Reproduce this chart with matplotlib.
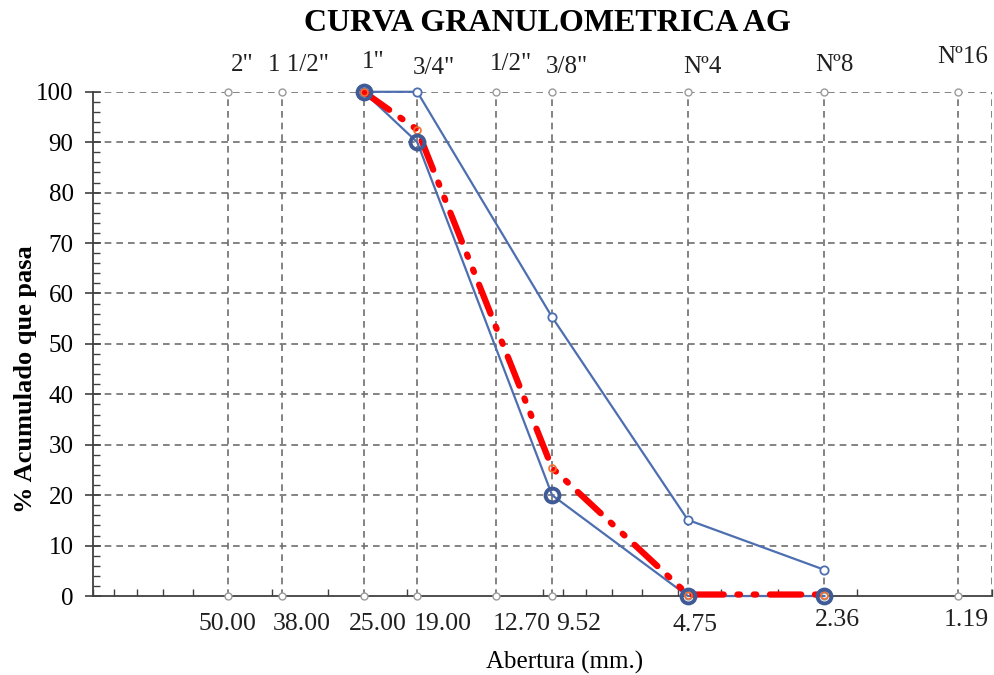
import matplotlib
matplotlib.use("Agg")
import matplotlib.pyplot as plt
from matplotlib.ticker import FixedLocator, LogLocator, MultipleLocator, NullFormatter

plt.rcParams['font.family'] = ['Liberation Serif', 'DejaVu Serif']

# sieve openings (mm) and names
sieve_mm = [50.0, 38.0, 25.0, 19.0, 12.7, 9.52, 4.75, 2.36, 1.19]
sieve_names = ['2"', '1 1/2"', '1"', '3/4"', '1/2"', '3/8"', 'Nº4', 'Nº8', 'Nº16']
sieve_labels = ['50.00', '38.00', '25.00', '19.00', '12.70', '9.52', '4.75', '2.36', '1.19']

# gradation limits and sample curve
curve_mm = [25.0, 19.0, 9.52, 4.75, 2.36]
upper_limit = [100, 100, 55.3, 15.1, 5.2]
lower_limit = [100, 90, 20, 0, 0]
sample = [100, 92.5, 25.4, 0.3, 0.3]

# label nudges in pixels (the excel data labels are not centred on the sieve)
top_nudge = [(14, 27), (17, 27), (10, 30), (17, 24), (15, 28), (15, 25), (15, 25), (10, 27), (5, 35)]
bottom_nudge = [(-1, -28), (20, -28), (14, -28), (25, -28), (26, -28), (26, -28),
                (7, -28.5), (13, -23.5), (8, -23.5)]

fig = plt.figure(figsize=(9.95, 6.75), dpi=100)
ax = fig.add_axes([0.0935, 0.117, 0.9035, 0.747])

ax.set_xscale('log')
ax.set_xlim(100, 1)
ax.set_ylim(0, 100)

grid_kw = dict(color='#6e6e6e', lw=1.2, ls=(0, (4, 3)), zorder=1)
for v in range(10, 101, 10):
    ax.axhline(v, **grid_kw)
for v in sieve_mm + [1.0]:
    ax.axvline(v, **grid_kw)

# reference markers on top and bottom
ax.plot(sieve_mm, [100] * len(sieve_mm), ls='none', marker='o', ms=5,
        mfc='white', mec='#9a9a9a', mew=1.0, zorder=3, clip_on=False)
ax.plot(sieve_mm, [0] * len(sieve_mm), ls='none', marker='o', ms=5,
        mfc='white', mec='#9a9a9a', mew=1.0, zorder=3, clip_on=False)

blue = '#4d6fb0'
ax.plot(curve_mm, upper_limit, color=blue, lw=1.6, marker='o', ms=6,
        mfc='white', mec=blue, mew=1.3, zorder=4, clip_on=False)
ax.plot(curve_mm, lower_limit, color=blue, lw=1.6, zorder=4, clip_on=False)
ax.plot(curve_mm, sample, color='red', lw=4.5,
        ls=(0, (5, 2.2, 0.4, 2.2, 0.4, 2.2)), dash_capstyle='round',
        marker='o', ms=5, mfc='none', mec='#f07030', mew=1.2,
        zorder=5, clip_on=False)
ax.plot(curve_mm, lower_limit, ls='none', marker='o', ms=10,
        mfc='none', mec='#3f5a94', mew=2.8, zorder=6, clip_on=False)

for s in ['top', 'right']:
    ax.spines[s].set_visible(False)
for s in ['left', 'bottom']:
    ax.spines[s].set_color('#404040')
    ax.spines[s].set_linewidth(1.3)

ax.xaxis.set_major_locator(FixedLocator(sieve_mm))
ax.xaxis.set_major_formatter(NullFormatter())
ax.xaxis.set_minor_locator(LogLocator(base=10, subs=range(1, 10), numticks=20))
ax.xaxis.set_minor_formatter(NullFormatter())
ax.tick_params(axis='x', which='major', length=0)
ax.tick_params(axis='x', which='minor', direction='in', length=5, width=1, color='#404040')

# sieve labels below (mm) and above (names)
for mm, lab, (dx, dy) in zip(sieve_mm, sieve_labels, bottom_nudge):
    ax.annotate(lab, xy=(mm, 0), xycoords=('data', 'axes fraction'),
                xytext=(dx, dy), textcoords='offset pixels',
                ha='center', va='center', fontsize=18.5, color='#202020')
for mm, lab, (dx, dy) in zip(sieve_mm, sieve_names, top_nudge):
    ax.annotate(lab, xy=(mm, 1), xycoords=('data', 'axes fraction'),
                xytext=(dx, dy), textcoords='offset pixels',
                ha='center', va='center', fontsize=18, color='#202020')

ax.yaxis.set_major_locator(MultipleLocator(10))
ax.yaxis.set_minor_locator(MultipleLocator(2))
ax.tick_params(axis='y', which='major', direction='inout', length=12, width=1.2,
               color='#404040', labelsize=18, pad=8)
ax.tick_params(axis='y', which='minor', direction='in', length=5, width=1, color='#404040')

ax.set_ylabel('% Acumulado que pasa', fontsize=19, fontweight='bold')
ax.yaxis.set_label_coords(-0.0623, 0.43)
ax.set_xlabel('Abertura (mm.)', fontsize=18)
ax.xaxis.set_label_coords(0.524, -0.108)

fig.text(0.55, 0.965, 'CURVA GRANULOMETRICA AG', ha='center', va='center',
         fontsize=23, fontweight='bold')

fig.savefig('out.png', dpi=100)
